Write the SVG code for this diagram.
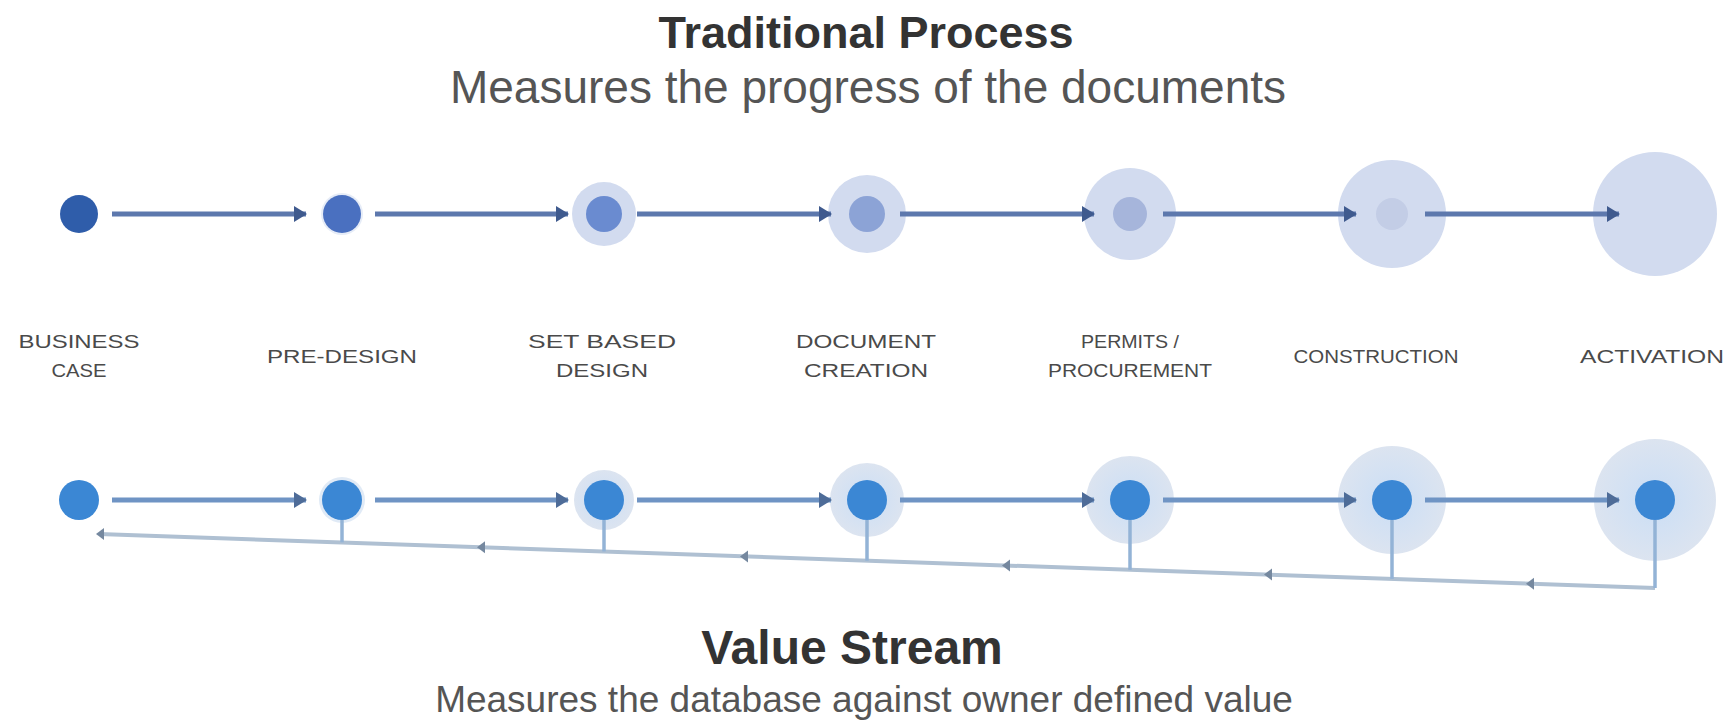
<svg xmlns="http://www.w3.org/2000/svg" width="1731" height="728" viewBox="0 0 1731 728">
<defs>
<style>
.title{font-family:"Liberation Sans",Arial,sans-serif;font-weight:bold;font-size:45px;fill:#333;text-anchor:middle}
.sub{font-family:"Liberation Sans",Arial,sans-serif;font-size:46px;fill:#555;text-anchor:middle}
.lbl{font-family:"Liberation Sans",Arial,sans-serif;font-size:18px;fill:#4a4a4a;text-anchor:middle}
.halo{fill:#D2DBEF}
.haloB{fill:url(#hb)}
.arT{stroke:#5D78AD;stroke-width:5;fill:none;marker-end:url(#ahT)}
.arB{stroke:#6F94C4;stroke-width:5;fill:none;marker-end:url(#ahB)}
.fb{stroke:#AFC0D2;stroke-width:4;fill:none}
.stem{stroke:#93B3D6;stroke-width:3.5;fill:none}
.tick{fill:#75889F}
.inB{fill:#3B87D4}
</style>
<radialGradient id="hb">
<stop offset="0" stop-color="#C9DDF5"/>
<stop offset="0.5" stop-color="#D3E1F3"/>
<stop offset="1" stop-color="#DCE4F0"/>
</radialGradient>
<marker id="ahT" markerUnits="userSpaceOnUse" markerWidth="14" markerHeight="16" refX="12" refY="8" orient="auto">
<path d="M0,0 L13,8 L0,16 z" fill="#3F5A8E"/>
</marker>
<marker id="ahB" markerUnits="userSpaceOnUse" markerWidth="14" markerHeight="16" refX="12" refY="8" orient="auto">
<path d="M0,0 L13,8 L0,16 z" fill="#4E6C98"/>
</marker>
</defs>
<rect width="1731" height="728" fill="#ffffff"/>

<g id="header-top">
<text class="title" x="866" y="48">Traditional Process</text>
<text class="sub" x="868" y="103">Measures the progress of the documents</text>
</g>

<g id="header-bottom">
<text class="title" x="852" y="664" style="font-size:48px">Value Stream</text>
<text class="sub" x="864" y="712" style="font-size:37px">Measures the database against owner defined value</text>
</g>

<g id="t1"><circle cx="79" cy="214" r="19" fill="#2F5DAA"/></g>
<g id="t2"><circle cx="342" cy="214" r="21" fill="#E6ECF7"/><circle cx="342" cy="214" r="19" fill="#4A70C0"/></g>
<g id="t3"><circle class="halo" cx="604" cy="214" r="32"/><circle cx="604" cy="214" r="18" fill="#6A8BD0"/></g>
<g id="t4"><circle class="halo" cx="867" cy="214" r="39"/><circle cx="867" cy="214" r="18" fill="#8CA3D6"/></g>
<g id="t5"><circle class="halo" cx="1130" cy="214" r="46"/><circle cx="1130" cy="214" r="17" fill="#A6B5DB"/></g>
<g id="t6"><circle class="halo" cx="1392" cy="214" r="54"/><circle cx="1392" cy="214" r="16" fill="#C3CDE6"/></g>
<g id="t7"><circle class="halo" cx="1655" cy="214" r="62"/></g>

<g id="l1"><text class="lbl" x="79" y="348" textLength="121" lengthAdjust="spacingAndGlyphs">BUSINESS</text><text class="lbl" x="79" y="377" textLength="55" lengthAdjust="spacingAndGlyphs">CASE</text></g>
<g id="l2"><text class="lbl" x="342" y="363" textLength="150" lengthAdjust="spacingAndGlyphs">PRE-DESIGN</text></g>
<g id="l3"><text class="lbl" x="602" y="348" textLength="148" lengthAdjust="spacingAndGlyphs">SET BASED</text><text class="lbl" x="602" y="377" textLength="92" lengthAdjust="spacingAndGlyphs">DESIGN</text></g>
<g id="l4"><text class="lbl" x="866" y="348" textLength="140" lengthAdjust="spacingAndGlyphs">DOCUMENT</text><text class="lbl" x="866" y="377" textLength="124" lengthAdjust="spacingAndGlyphs">CREATION</text></g>
<g id="l5"><text class="lbl" x="1130" y="348" textLength="98" lengthAdjust="spacingAndGlyphs">PERMITS /</text><text class="lbl" x="1130" y="377" textLength="164" lengthAdjust="spacingAndGlyphs">PROCUREMENT</text></g>
<g id="l6"><text class="lbl" x="1376" y="363" textLength="165" lengthAdjust="spacingAndGlyphs">CONSTRUCTION</text></g>
<g id="l7"><text class="lbl" x="1652" y="363" textLength="144" lengthAdjust="spacingAndGlyphs">ACTIVATION</text></g>

<g id="b1"><circle class="inB" cx="79" cy="500" r="20"/></g>
<g id="b2"><circle cx="342" cy="500" r="23" fill="#E0EAF6"/><circle class="inB" cx="342" cy="500" r="20"/></g>
<g id="b3"><circle class="haloB" cx="604" cy="500" r="30"/><circle class="inB" cx="604" cy="500" r="20"/></g>
<g id="b4"><circle class="haloB" cx="867" cy="500" r="37"/><circle class="inB" cx="867" cy="500" r="20"/></g>
<g id="b5"><circle class="haloB" cx="1130" cy="500" r="44"/><circle class="inB" cx="1130" cy="500" r="20"/></g>
<g id="b6"><circle class="haloB" cx="1392" cy="500" r="54"/><circle class="inB" cx="1392" cy="500" r="20"/></g>
<g id="b7"><circle class="haloB" cx="1655" cy="500" r="61"/><circle class="inB" cx="1655" cy="500" r="20"/></g>

<g id="connectors">
<line class="arT" x1="112" y1="214" x2="306" y2="214"/>
<line class="arT" x1="375" y1="214" x2="568" y2="214"/>
<line class="arT" x1="637" y1="214" x2="831" y2="214"/>
<line class="arT" x1="900" y1="214" x2="1094" y2="214"/>
<line class="arT" x1="1163" y1="214" x2="1356" y2="214"/>
<line class="arT" x1="1425" y1="214" x2="1619" y2="214"/>

<line class="arB" x1="112" y1="500" x2="306" y2="500"/>
<line class="arB" x1="375" y1="500" x2="568" y2="500"/>
<line class="arB" x1="637" y1="500" x2="831" y2="500"/>
<line class="arB" x1="900" y1="500" x2="1094" y2="500"/>
<line class="arB" x1="1163" y1="500" x2="1356" y2="500"/>
<line class="arB" x1="1425" y1="500" x2="1619" y2="500"/>

<polyline class="fb" points="1655,588 99,534"/>
<line class="stem" x1="342" y1="520" x2="342" y2="542.4"/>
<line class="stem" x1="604" y1="520" x2="604" y2="551.5"/>
<line class="stem" x1="867" y1="520" x2="867" y2="560.7"/>
<line class="stem" x1="1130" y1="520" x2="1130" y2="569.8"/>
<line class="stem" x1="1392" y1="520" x2="1392" y2="578.9"/>
<line class="stem" x1="1655" y1="520" x2="1655" y2="588"/>
<polygon class="tick" points="96,534 104,528 104,540"/>
<polygon class="tick" points="477,547.2 485,541.2 485,553.2"/>
<polygon class="tick" points="740,556.4 748,550.4 748,562.4"/>
<polygon class="tick" points="1002,565.5 1010,559.5 1010,571.5"/>
<polygon class="tick" points="1264,574.6 1272,568.6 1272,580.6"/>
<polygon class="tick" points="1526,583.7 1534,577.7 1534,589.7"/>
</g>
</svg>
